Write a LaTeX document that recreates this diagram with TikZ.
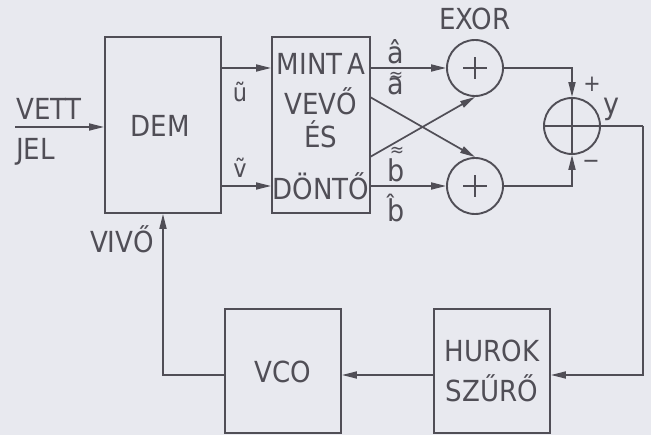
\documentclass[tikz,border=0pt]{standalone}
\usepackage{fontspec}
\setmainfont{DejaVu Sans Condensed}
\usetikzlibrary{arrows.meta}
\definecolor{bg}{RGB}{232,233,239}
\definecolor{ink}{RGB}{80,78,86}
\begin{document}
\begin{tikzpicture}[x=1pt,y=-1pt,
  box/.style={draw=ink, line width=1.9pt, inner sep=0pt},
  lbl/.style={font=\fontsize{29}{31}\selectfont, text=ink, inner sep=0pt, anchor=base},
  small/.style={font=\fontsize{25}{27}\selectfont, text=ink, inner sep=0pt, anchor=base},
  letr/.style={font=\fontsize{30}{32}\selectfont, text=ink, inner sep=0pt, anchor=base},
  sign/.style={font=\fontsize{23}{25}\selectfont, text=ink, inner sep=0pt},
  acc/.style={font=\fontsize{19}{21}\selectfont, text=ink, inner sep=0pt},
  wire/.style={draw=ink, line width=1.7pt},
  arr/.style={wire, -{Triangle[length=15pt,width=7pt]}},
  xsum/.style={circle, draw=ink, line width=1.9pt, minimum size=56pt, inner sep=0pt}]
\fill[bg] (0,0) rectangle (651,435);
\useasboundingbox (0,0) rectangle (651,435);

% blocks
\node[box, minimum width=116pt, minimum height=176pt] (dem) at (163,125) {};
\node[box, minimum width=98pt, minimum height=176pt] (mint) at (321,125) {};
\node[box, minimum width=116pt, minimum height=124pt] (vco) at (283,371) {};
\node[box, minimum width=116pt, minimum height=124pt] (hurok) at (492,371) {};
\node[xsum] (x1) at (475,68) {};
\node[xsum] (x2) at (475,186) {};
\node[xsum] (s) at (572,126) {};

% block texts
\node[lbl] (tdem) at (160,137) {DEM};
\node[lbl] (tm1) at (321,75) {MINT\,A};
\node[lbl] (tm2) at (321,115) {VEVŐ};
\node[lbl] (tm3) at (321,148) {ÉS};
\node[lbl] (tm4) at (321,200) {DÖNTŐ};
\node[lbl] (tvco) at (283,383) {VCO};
\node[lbl] (th1) at (492,362) {HUROK};
\node[lbl] (th2) at (492,402) {SZŰRŐ};
\node[lbl] (texor) at (475,30) {EXOR};

% side labels
\node[lbl, anchor=base west] (tvett) at (16,120) {VETT};
\node[lbl, anchor=base west] (tjel) at (16,160) {JEL};
\node[lbl] (tvivo) at (122,253) {VIVŐ};
\node[small] (tu) at (240,102) {ũ};
\node[small] (tv) at (240,178) {ṽ};
\node[letr] (ta) at (396,64) {â};
\node[letr] (ta2) at (396,95) {a};
\node[acc] (ta2t) at (396,77) {≈};
\node[letr] (tb2) at (396,182) {b};
\node[acc] (tb2t) at (397,152) {≈};
\node[letr] (tb) at (396,222) {b̂};
\node[letr] (ty) at (611,115) {y};
\node[sign] (tplus) at (592,84) {+};
\node[sign] (tminus) at (591,164) {−};

% helper coordinates
\coordinate (in) at (15,127);
\coordinate (r1) at (0,68);
\coordinate (r2) at (0,186);
\coordinate (c1) at (370,97);
\coordinate (c2) at (370,157);
\coordinate (yr) at (643,126);
\coordinate (lp) at (0,375);

% connectors
\draw[arr] (in) -- (dem.west |- in);
\draw[arr] (dem.east |- r1) -- (mint.west |- r1);
\draw[arr] (dem.east |- r2) -- (mint.west |- r2);
\draw[arr] (mint.east |- x1) -- (x1.west);
\draw[arr] (mint.east |- x2) -- (x2.west);
\draw[arr] (c1) -- (x2.north);
\draw[arr] (c2) -- (x1.south);
\draw[arr] (x1.east) -| (s.north);
\draw[arr] (x2.east) -| (s.south);
\draw[wire] (s.north) -- (s.south);
\draw[wire] (s.west) -- (s.east);
\draw[wire] (s.east) -- (yr);
\draw[arr] (yr) |- (hurok.east |- lp);
\draw[arr] (hurok.west |- lp) -- (vco.east |- lp);
\draw[arr] (vco.west |- lp) -| (dem.south);

% plus signs
\draw[wire] ([xshift=-12pt]x1.center) -- ([xshift=12pt]x1.center);
\draw[wire] ([yshift=-11pt]x1.center) -- ([yshift=11pt]x1.center);
\draw[wire] ([xshift=-12pt]x2.center) -- ([xshift=12pt]x2.center);
\draw[wire] ([yshift=-11pt]x2.center) -- ([yshift=11pt]x2.center);
\end{tikzpicture}
\end{document}
